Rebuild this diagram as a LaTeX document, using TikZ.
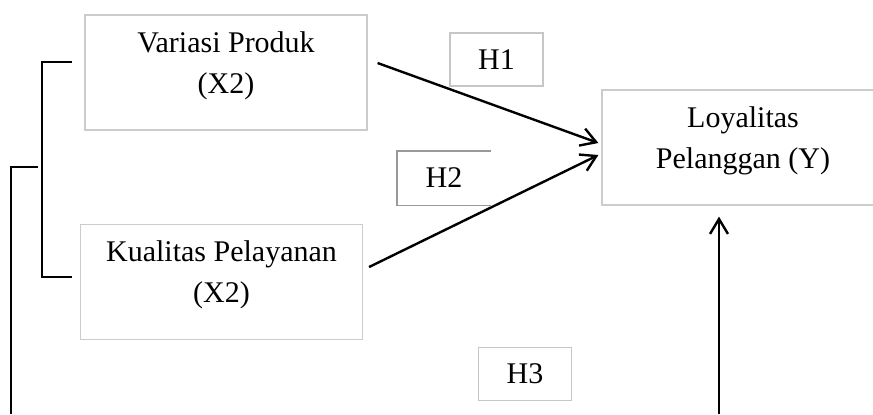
\documentclass[tikz,border=0pt]{standalone}
\usepackage{fontspec}
\setmainfont{Liberation Serif}
\usetikzlibrary{arrows.meta}

\begin{document}
\begin{tikzpicture}[x=0.5pt,y=-0.5pt,>={Straight Barb[length=7.5pt,width=9pt]}]
\tikzstyle{every node} = [rectangle, font=\fontsize{15}{20.5}\selectfont]
\tikzstyle{varbox} = [draw=gray!40, line width=0.6pt, align=center, inner sep=0pt, minimum width=141pt, text height=39pt, text depth=18.5pt]
\tikzstyle{hbox} = [draw=gray!45, line width=0.6pt, inner sep=0pt, minimum width=46.5pt, minimum height=26.5pt]
\useasboundingbox (0,0) rectangle (873,414);

\node[varbox] (produk) at (226, 72.5) {Variasi Produk\\(X2)};
\node[varbox] (layanan) at (221.5, 282) {Kualitas Pelayanan\\(X2)};
\node[varbox] (loyal) at (743, 147.5) {Loyalitas\\Pelanggan (Y)};
\node[hbox] (h1) at (496.5, 59.5) {H1};
\node[hbox, draw=none] (h2) at (444, 178) {H2};
\node[hbox] (h3) at (525, 374) {H3};
\draw[gray!80, line width=0.6pt] (h2.north east) -- (h2.north west) -- (h2.south west) -- (h2.south east);

\coordinate (bt) at (72, 62);
\coordinate (bb) at (72, 277);
\coordinate (bm) at (38, 167);
\coordinate (bl) at (11, 414);
\coordinate (br) at (719, 414);

\draw [line width=1.1pt] (bt) -- ++(-30,0) |- (bb);
\draw [line width=1.1pt] (bm) -| (bl);
\draw [->, line width=1.2pt] ([shift={(10,-9.5)}]produk.east) -- ([shift={(-3,-4.5)}]loyal.west);
\draw [->, line width=1.2pt] ([shift={(6,-15)}]layanan.east) -- ([shift={(-3,7.5)}]loyal.west);
\draw [->, line width=1.2pt] (br) -- ([shift={(-24,11)}]loyal.south);
\end{tikzpicture}
\end{document}
